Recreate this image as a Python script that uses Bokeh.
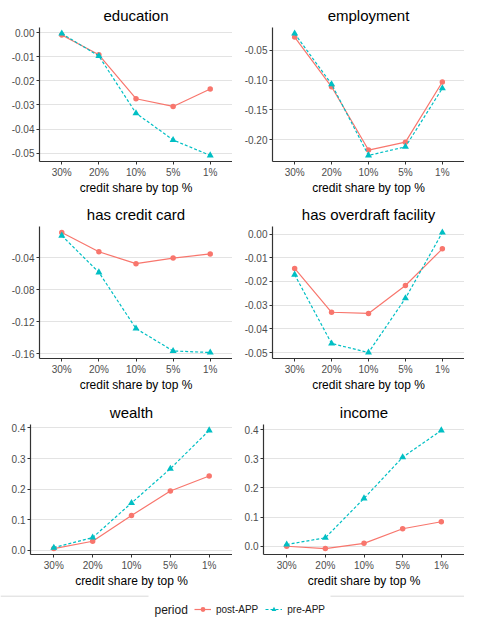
from bokeh.plotting import figure
from bokeh.models import (Range1d, FixedTicker, PrintfTickFormatter, Legend, LegendItem,
                          Label, Span, BoxAnnotation)
from bokeh.layouts import column, row
from bokeh.embed import file_html
from bokeh.resources import INLINE

# ---------------- data ----------------
categories = ["30%", "20%", "10%", "5%", "1%"]
positions = [1, 2, 3, 4, 5]

education_post = [-0.0010, -0.0092, -0.0274, -0.0306, -0.0234]
education_pre = [-0.0004, -0.0097, -0.0334, -0.0445, -0.0509]
employment_post = [-0.0277, -0.1112, -0.2176, -0.2043, -0.1032]
employment_pre = [-0.0218, -0.1069, -0.2266, -0.2122, -0.1138]
credit_card_post = [-0.0085, -0.0326, -0.0474, -0.0404, -0.0353]
credit_card_pre = [-0.0124, -0.0583, -0.1285, -0.1565, -0.1584]
overdraft_post = [-0.0145, -0.0330, -0.0335, -0.0217, -0.0062]
overdraft_pre = [-0.0171, -0.0462, -0.0500, -0.0271, 0.0007]
wealth_post = [0.006, 0.030, 0.114, 0.194, 0.243]
wealth_pre = [0.009, 0.042, 0.155, 0.267, 0.392]
income_post = [0.000, -0.008, 0.010, 0.060, 0.084]
income_pre = [0.006, 0.029, 0.164, 0.305, 0.397]

education_ticks = [0.00, -0.01, -0.02, -0.03, -0.04, -0.05]
employment_ticks = [-0.05, -0.10, -0.15, -0.20]
credit_card_ticks = [-0.04, -0.08, -0.12, -0.16]
overdraft_ticks = [0.00, -0.01, -0.02, -0.03, -0.04, -0.05]
wealth_ticks = [0.0, 0.1, 0.2, 0.3, 0.4]
income_ticks = [0.0, 0.1, 0.2, 0.3, 0.4]

series_labels = ["post-APP", "pre-APP"]
legend_title = "period"
x_title = "credit share by top %"

RED = "#F8766D"
TEAL = "#00BFC4"
FONT = "Liberation Sans"


def panel(title, post, pre, ticks, fmt, w, h, bl, bt, bb):
    lo = min(post + pre)
    hi = max(post + pre)
    pad = 0.05 * (hi - lo)
    p = figure(width=w, height=h, x_range=Range1d(0.4, 5.6), y_range=Range1d(lo - pad, hi + pad),
               output_backend="svg", toolbar_location=None,
               min_border_left=bl, min_border_right=0, min_border_top=bt, min_border_bottom=bb,
               title=title)
    p.title.text_font = FONT
    p.title.text_font_size = "15px"
    p.title.text_font_style = "normal"
    p.title.text_color = "black"
    p.title.align = "center"
    p.title.standoff = 8
    p.outline_line_color = None
    p.background_fill_color = "white"
    p.border_fill_color = "white"
    p.xgrid.visible = False
    p.ygrid.grid_line_color = "#E3E3E3"
    p.ygrid.grid_line_width = 1

    p.xaxis.ticker = FixedTicker(ticks=positions)
    p.xaxis.major_label_overrides = {pos: lab for pos, lab in zip(positions, categories)}
    p.xaxis.axis_label = x_title
    p.xaxis.axis_label_standoff = 0
    p.xaxis.major_label_standoff = 2
    p.yaxis.ticker = FixedTicker(ticks=ticks)
    p.yaxis.formatter = PrintfTickFormatter(format=fmt)
    p.yaxis.major_label_standoff = 2
    for ax in (p.xaxis[0], p.yaxis[0]):
        ax.axis_line_color = "#333333"
        ax.axis_line_width = 1.2
        ax.major_tick_line_color = "#333333"
        ax.major_tick_in = 0
        ax.major_tick_out = 3
        ax.minor_tick_line_color = None
        ax.major_label_text_font = FONT
        ax.major_label_text_font_size = "10px"
        ax.major_label_text_color = "#4D4D4D"
        ax.axis_label_text_font = FONT
        ax.axis_label_text_font_size = "12px"
        ax.axis_label_text_font_style = "normal"
        ax.axis_label_text_color = "black"

    p.line(positions, post, line_color=RED, line_width=1.2)
    p.scatter(positions, post, marker="circle", size=5.5, fill_color=RED, line_color=None)
    p.line(positions, pre, line_color=TEAL, line_width=1.2, line_dash="3 2")
    p.scatter(positions, pre, marker="triangle", size=7, fill_color=TEAL, line_color=None)
    return p


p1 = panel("education", education_post, education_pre, education_ticks, "%.2f", 232, 197, 39, 27, 32)
p2 = panel("employment", employment_post, employment_pre, employment_ticks, "%.2f", 232, 197, 40, 27, 32)
p3 = panel("has credit card", credit_card_post, credit_card_pre, credit_card_ticks, "%.2f", 232, 197, 39, 29, 30)
p4 = panel("has overdraft facility", overdraft_post, overdraft_pre, overdraft_ticks, "%.2f", 232, 197, 40, 29, 30)
p5 = panel("wealth", wealth_post, wealth_pre, wealth_ticks, "%.1f", 232, 196, 30, 30, 28)
p6 = panel("income", income_post, income_pre, income_ticks, "%.1f", 232, 196, 31, 30, 28)

# ---------------- legend strip ----------------
LW, LH = 464, 28
pl = figure(width=LW, height=LH, x_range=Range1d(0, LW), y_range=Range1d(0, LH),
            output_backend="svg", toolbar_location=None,
            x_axis_location=None, y_axis_location=None,
            min_border_left=0, min_border_right=0, min_border_top=0, min_border_bottom=0)
pl.grid.visible = False
pl.outline_line_color = None
pl.background_fill_color = "white"
pl.border_fill_color = "white"
pl.add_layout(Span(location=22.3, dimension="width", line_color="#D9D9D9", line_width=1))
pl.add_layout(BoxAnnotation(left=148, right=330, bottom=0, top=LH, fill_color="white",
                            fill_alpha=1, line_color=None))
pl.add_layout(Label(x=154, y=8.6, text=legend_title, text_baseline="middle", text_font=FONT,
                    text_font_size="12px", text_color="#1A1A1A"))
nan = float("nan")
lr = pl.line([nan], [nan], line_color=RED, line_width=1.2)
sr = pl.scatter([nan], [nan], marker="circle", size=5.5, fill_color=RED, line_color=None)
lt = pl.line([nan], [nan], line_color=TEAL, line_width=1.2, line_dash="3 2")
st = pl.scatter([nan], [nan], marker="triangle", size=7, fill_color=TEAL, line_color=None)
legend = Legend(items=[LegendItem(label=series_labels[0], renderers=[lr, sr]),
                       LegendItem(label=series_labels[1], renderers=[lt, st])],
                orientation="horizontal", location=(194, 2.6),
                glyph_width=17, glyph_height=12, label_height=12,
                label_text_font=FONT, label_text_font_size="10px", label_text_color="#1A1A1A",
                label_standoff=5, spacing=7, padding=0, margin=0,
                border_line_color=None, background_fill_alpha=0)
pl.add_layout(legend, "center")

layout = column(row(p1, p2), row(p3, p4), row(p5, p6), pl)

open("out.html", "w").write(file_html(layout, INLINE))
